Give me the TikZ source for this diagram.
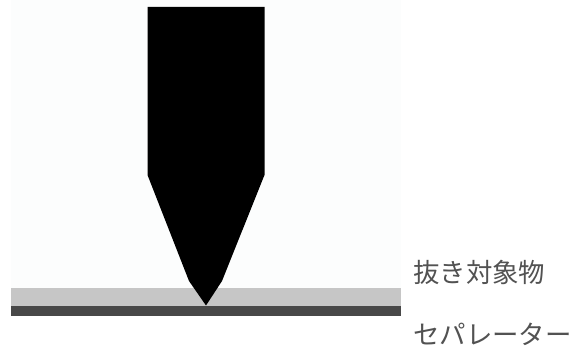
\documentclass[tikz,border=0pt]{standalone}
\usepackage{fontspec}
\newfontfamily\cjk{Noto Sans CJK JP}
\tikzset{
  px/.style={x=1pt,y=-1pt},
  label/.style={anchor=west,inner sep=0pt,font=\cjk\fontsize{26.4}{26.4}\selectfont,text=black!68},
}
\definecolor{bgtint}{HTML}{FCFDFD}
\definecolor{film}{HTML}{C6C6C6}
\definecolor{sep}{HTML}{484848}
\begin{document}
\begin{tikzpicture}[px]
\useasboundingbox (0,0) rectangle (576,347);
\fill[white] (0,0) rectangle (576,347);
\fill[bgtint] (11,0) rectangle (401,288);
\fill[film] (11,288) rectangle (401,306);
\fill[sep] (11,306) rectangle (401,316.5);
\fill[black] (147.5,7) -- (264.5,7) -- (264.5,175) -- (222,281) -- (206,305.5) -- (189,281) -- (147.5,175) -- cycle;
\node[label] (a) at (413,272) {抜き対象物};
\node[label] (b) at (413,334) {セパレーター};
\end{tikzpicture}
\end{document}
